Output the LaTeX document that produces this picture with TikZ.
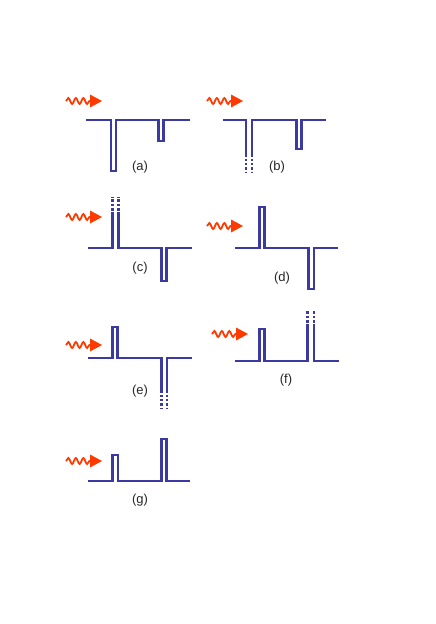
\documentclass[tikz,border=0pt]{standalone}
\usepackage{fontspec}
\setmainfont{Liberation Sans}
\usetikzlibrary{decorations.pathmorphing}
\definecolor{wireblue}{HTML}{3A3AA0}
\definecolor{photonred}{HTML}{FF3A00}

\tikzset{
  wire/.style={draw=wireblue, line width=2.5pt, line join=miter},
  open/.style={draw=wireblue, line width=2.5pt, dash pattern=on 2.4pt off 2pt},
  wave/.style={draw=photonred, line width=1.8pt, decorate,
    decoration={snake, segment length=7.5pt, amplitude=3pt}},
  label/.style={font=\fontsize{13}{15}\selectfont, text=black!85}
}
% incoming photon: wavy line plus a triangular head
\newcommand{\photon}[2]{%
  \draw[wave] (#1,#2) -- ++(25,0);
  \fill[photonred] (#1+24,#2-6.5) -- (#1+36,#2) -- (#1+24,#2+6.5) -- cycle;
}

\begin{document}
\begin{tikzpicture}[x=1pt, y=-1pt]
  \useasboundingbox (0,0) rectangle (436,624);

  % (a)
  \photon{66}{101}
  \draw[wire] (86,120) -- (111,120) -- (111,171) -- (116,171) -- (116,120)
    -- (158.5,120) -- (158.5,141) -- (163.5,141) -- (163.5,120) -- (190,120);
  \node[label] (la) at (140,167) {(a)};

  % (b)
  \photon{207}{101}
  \draw[wire] (223,120) -- (246,120) -- (246,157);
  \draw[wire] (252,157) -- (252,120) -- (296.5,120) -- (296.5,149) -- (301.5,149)
    -- (301.5,120) -- (326,120);
  \draw[open] (246,158.5) -- (246,172);
  \draw[open] (252,158.5) -- (252,172);
  \node[label] (lb) at (277,167) {(b)};

  % (c)
  \photon{66}{217}
  \draw[wire] (88,248) -- (112.5,248) -- (112.5,212);
  \draw[wire] (118.5,212) -- (118.5,248) -- (161.5,248) -- (161.5,281) -- (166.5,281)
    -- (166.5,248) -- (192,248);
  \draw[open] (112.5,210.5) -- (112.5,197);
  \draw[open] (118.5,210.5) -- (118.5,197);
  \node[label] (lc) at (140,268) {(c)};

  % (d)
  \photon{207}{226}
  \draw[wire] (235,248) -- (259.5,248) -- (259.5,207) -- (264.5,207) -- (264.5,248)
    -- (308.5,248) -- (308.5,289) -- (314,289) -- (314,248) -- (338,248);
  \node[label] (ld) at (282,278) {(d)};

  % (e)
  \photon{66}{345}
  \draw[wire] (88,358) -- (112.5,358) -- (112.5,327) -- (117.5,327) -- (117.5,358)
    -- (161.5,358) -- (161.5,393);
  \draw[wire] (167,393) -- (167,358) -- (192,358);
  \draw[open] (161.5,394.5) -- (161.5,408);
  \draw[open] (167,394.5) -- (167,408);
  \node[label] (le) at (140,391) {(e)};

  % (f)
  \photon{212}{334}
  \draw[wire] (235,361) -- (259.5,361) -- (259.5,329) -- (264.5,329) -- (264.5,361)
    -- (307.5,361) -- (307.5,324);
  \draw[wire] (314,324) -- (314,361) -- (339,361);
  \draw[open] (307.5,322.5) -- (307.5,311);
  \draw[open] (314,322.5) -- (314,311);
  \node[label] (lf) at (286,380) {(f)};

  % (g)
  \photon{66}{461}
  \draw[wire] (88,481) -- (112.5,481) -- (112.5,455) -- (118,455) -- (118,481)
    -- (161.5,481) -- (161.5,439) -- (166.5,439) -- (166.5,481) -- (190,481);
  \node[label] (lg) at (140,500) {(g)};
\end{tikzpicture}
\end{document}
